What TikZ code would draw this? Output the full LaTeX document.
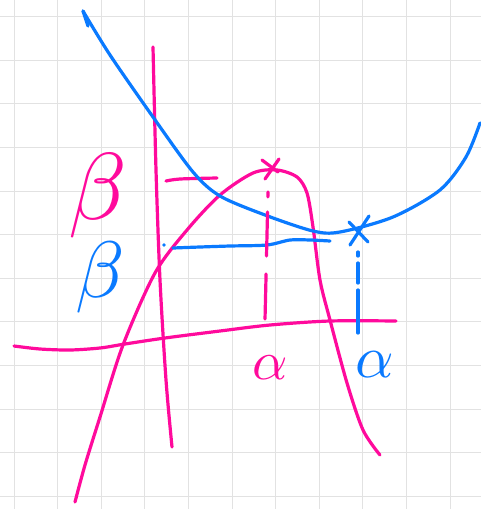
\documentclass[tikz,border=0pt]{standalone}
\usepackage{amsmath}
\usepackage{tikz}
\usetikzlibrary{positioning}
\definecolor{sketchpink}{HTML}{FF0A9C}
\definecolor{sketchblue}{HTML}{0A7AFF}
\definecolor{sketchgrid}{HTML}{E2E2E2}
\begin{document}
\begin{tikzpicture}[
  x=1pt,y=-1pt,
  gridline/.style={line width=1pt,sketchgrid},
  pinkpen/.style={line width=3.2pt,sketchpink,line cap=round,line join=round},
  bluepen/.style={line width=3.2pt,sketchblue,line cap=round,line join=round},
  lab/.style={inner sep=0pt}
]
\useasboundingbox[fill=white] (0,0) rectangle (481,509);
% grid
\foreach \k in {0,...,10}{\draw[gridline] ({14+43.6*\k},0) -- ({14+43.6*\k},509);}
\foreach \k in {0,...,11}{\draw[gridline] (0,{16.7+43.6*\k}) -- (481,{16.7+43.6*\k});}
% pink axes
\draw[pinkpen] plot[smooth] coordinates {(14,346) (40,349) (70,350) (100,348) (125,344) (165,338) (220,331) (270,325) (330,321) (396,321)};
\draw[pinkpen] plot[smooth] coordinates {(153,47) (156,170) (160,280) (166,380) (172,447)};
% pink hump
\draw[pinkpen] plot[smooth] coordinates {(75,502) (85,465) (100,417) (123,345) (155,273) (187,230) (220,195) (253,173) (277,170) (297,177) (307,193) (313,227) (320,280) (330,320) (347,383) (363,430) (380,455)};
\draw[pinkpen] plot[smooth] coordinates {(166,181) (180,179) (217,178)};
% blue curve
\draw[bluepen] (88,26) -- (83,11);
\draw[bluepen] plot[smooth] coordinates {(83,11) (110,55) (153,117) (193,172) (220,196) (265,215) (313,231) (340,232) (393,217) (440,190) (466,157) (480,123)};
\draw[bluepen] plot[smooth] coordinates {(173,248) (200,247) (230,246) (267,245) (290,240) (310,240) (330,241)};
\fill[sketchblue] (164,245) circle (1.8);
% crosses
\draw[pinkpen] (262,160) -- (278,172) (279,159) -- (265,179);
\draw[bluepen] (349,222) -- (368,242) (369,216) -- (350,245);
% dashed drops
\draw[pinkpen,dash pattern=on 5pt off 15pt on 44pt off 18pt on 45pt] (268,192) -- (265,320);
\draw[bluepen,dash pattern=on 4pt off 7pt on 20pt off 7pt on 43pt] (358,252) -- (358,333);
% labels
\node[lab,text=sketchpink,scale=9.5] (betapink) at (98,196) {$\beta$};
\node[lab,text=sketchblue,scale=8] (betablue) at (100,277) {$\beta$};
\node[lab,text=sketchpink,scale=5.5] (alphapink) at (270,368) {$\alpha$};
\node[lab,text=sketchblue,scale=6] (alphablue) at (375,365) {$\alpha$};
\end{tikzpicture}
\end{document}
